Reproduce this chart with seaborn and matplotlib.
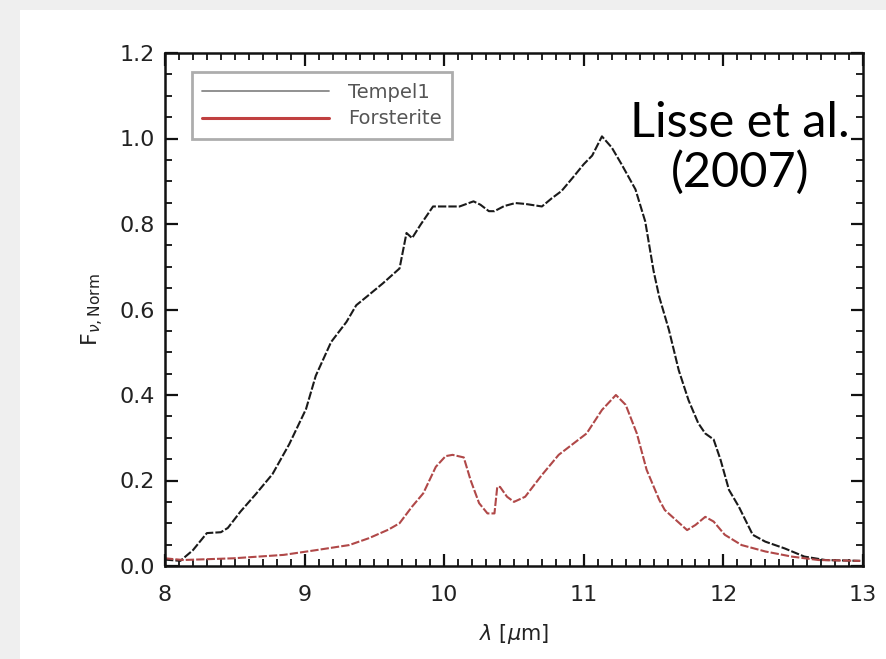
import matplotlib
matplotlib.use("Agg")
import matplotlib.pyplot as plt
import seaborn as sns
import pandas as pd
from matplotlib.lines import Line2D
from matplotlib.patches import Rectangle
from matplotlib.ticker import MultipleLocator

# Data
tempel_x = [8.00, 8.11, 8.20, 8.30, 8.40, 8.45, 8.54, 8.65, 8.77, 8.89, 9.01, 9.08,
            9.19, 9.30, 9.37, 9.46, 9.56, 9.68, 9.73, 9.77, 9.83, 9.92, 10.11, 10.21,
            10.26, 10.32, 10.36, 10.43, 10.51, 10.58, 10.70, 10.77, 10.84, 10.92,
            11.00, 11.06, 11.13, 11.20, 11.27, 11.37, 11.44, 11.50, 11.54, 11.61,
            11.68, 11.75, 11.82, 11.87, 11.93, 11.98, 12.04, 12.11, 12.21, 12.30,
            12.44, 12.58, 12.73, 12.98]
tempel_y = [0.015, 0.012, 0.037, 0.077, 0.079, 0.089, 0.127, 0.168, 0.215, 0.285, 0.367, 0.445,
            0.524, 0.571, 0.610, 0.634, 0.661, 0.696, 0.779, 0.767, 0.798, 0.841, 0.841, 0.853,
            0.845, 0.830, 0.830, 0.842, 0.849, 0.847, 0.841, 0.860, 0.877, 0.908,
            0.940, 0.960, 1.005, 0.979, 0.940, 0.881, 0.806, 0.690, 0.630, 0.552,
            0.458, 0.388, 0.334, 0.310, 0.296, 0.248, 0.178, 0.139, 0.073, 0.057,
            0.041, 0.022, 0.014, 0.012]

forst_x = [8.00, 8.13, 8.49, 8.85, 9.08, 9.32, 9.46, 9.60, 9.68, 9.77, 9.85, 9.94,
           10.01, 10.06, 10.14, 10.19, 10.25, 10.31, 10.36, 10.38, 10.40, 10.45, 10.50,
           10.58, 10.70, 10.82, 10.94, 11.02, 11.13, 11.23, 11.30, 11.38, 11.45, 11.54,
           11.58, 11.74, 11.80, 11.87, 11.93, 12.01, 12.13, 12.30, 12.49, 12.68, 12.98]
forst_y = [0.018, 0.014, 0.018, 0.026, 0.037, 0.049, 0.065, 0.085, 0.100, 0.139, 0.170, 0.232,
           0.257, 0.260, 0.254, 0.200, 0.147, 0.123, 0.123, 0.185, 0.185, 0.162, 0.150,
           0.162, 0.213, 0.260, 0.290, 0.310, 0.365, 0.400, 0.377, 0.310, 0.225, 0.155,
           0.131, 0.084, 0.096, 0.115, 0.104, 0.073, 0.049, 0.034, 0.022, 0.014, 0.012]

series_names = ["Tempel1", "Forsterite"]
x_ticks = [8, 9, 10, 11, 12, 13]
y_ticks = [0.0, 0.2, 0.4, 0.6, 0.8, 1.0, 1.2]

df = pd.concat([
    pd.DataFrame({"wl": tempel_x, "flux": tempel_y, "series": series_names[0]}),
    pd.DataFrame({"wl": forst_x, "flux": forst_y, "series": series_names[1]}),
], ignore_index=True)

sns.set_style("ticks")
plt.rcParams["font.family"] = ["DejaVu Sans"]

W, H = 886, 659
fig = plt.figure(figsize=(W / 100, H / 100), dpi=100)
fig.patch.set_facecolor("#efefef")
fig.patches.append(Rectangle((20 / W, 0), 1 - 20 / W, 1 - 10 / H, transform=fig.transFigure,
                             facecolor="white", edgecolor="none", zorder=-10))

ax = fig.add_axes([165 / W, 1 - 566 / H, (863 - 165) / W, (566 - 53) / H])
ax.set_facecolor("white")
ax.set_zorder(1)

palette = {"Tempel1": "#1a1a1a", "Forsterite": "#b04848"}
sns.lineplot(data=df, x="wl", y="flux", hue="series", palette=palette, ax=ax,
             legend=False, sort=False, estimator=None)
for line, name in zip(ax.get_lines(), series_names):
    line.set_linewidth(1.5)
    line.set_dashes((4.0, 1.0))

ax.set_xlim(8, 13)
ax.set_ylim(0, 1.2)
ax.set_xticks(x_ticks)
ax.set_yticks(y_ticks)
ax.set_xticklabels([str(v) for v in x_ticks])
ax.set_yticklabels([f"{v:.1f}" for v in y_ticks])
ax.xaxis.set_minor_locator(MultipleLocator(0.1))
ax.yaxis.set_minor_locator(MultipleLocator(0.05))
ax.tick_params(which="both", direction="in", top=True, right=True, color="#111111")
ax.tick_params(which="major", length=9, width=1.6, labelsize=16, labelcolor="#222222")
ax.tick_params(axis="x", which="major", pad=14)
ax.tick_params(axis="y", which="major", pad=7)
ax.tick_params(which="minor", length=5, width=1.3)
for s in ax.spines.values():
    s.set_linewidth(1.8)
    s.set_color("#111111")

ax.set_xlabel(r"$\lambda$ [$\mu$m]", fontsize=15, color="#222222", labelpad=12)
ax.set_ylabel(r"F$_{\nu\mathrm{,Norm}}$", fontsize=16, color="#222222", labelpad=10)

handles = [Line2D([], [], color="#888888", lw=1.3),
           Line2D([], [], color="#c04040", lw=2.2)]
leg = ax.legend(handles, series_names, loc="upper left", bbox_to_anchor=(0.038, 0.963),
                fontsize=14, frameon=True, fancybox=False, handlelength=6.5,
                borderpad=0.55, labelspacing=0.4, handletextpad=1.0, borderaxespad=0)
leg.get_frame().set_edgecolor("#999999")
leg.get_frame().set_linewidth(2.0)
for t in leg.get_texts():
    t.set_color("#555555")

fig.text(740 / W, 1 - 148 / H, "Lisse et al.\n(2007)", fontsize=35, family="Lato",
         ha="center", va="center", color="black", linespacing=1.15, zorder=5)

fig.savefig("out.png", dpi=100, facecolor=fig.get_facecolor())
